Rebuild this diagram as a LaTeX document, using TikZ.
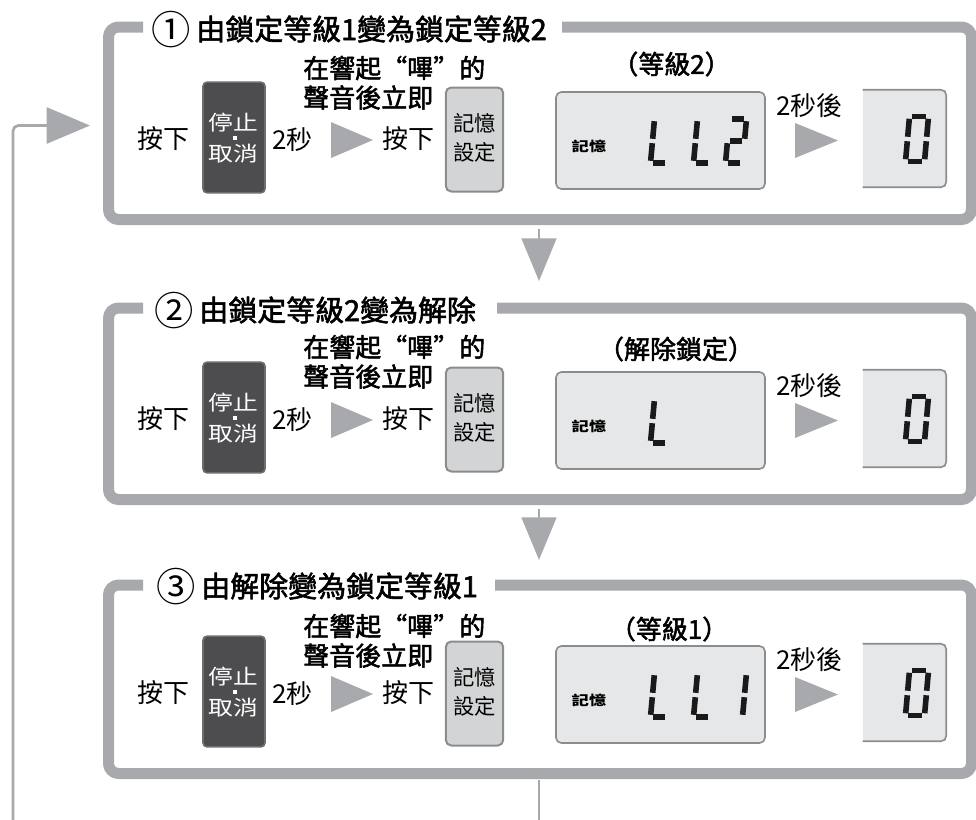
\documentclass[tikz,border=0pt]{standalone}
\usepackage{fontspec}
\usepackage{color}
\usepackage{pgf, tikz}
\usetikzlibrary{arrows.meta}
\setmainfont{Noto Sans CJK TC}
\newfontfamily\medfont{Noto Sans CJK TC}[FakeBold=2]
\newfontfamily\widefont{Noto Sans CJK TC}[FakeStretch=1.2]
\definecolor{framegray}{HTML}{A7A9AC}
\definecolor{keydark}{HTML}{4D4D4F}
\definecolor{keyedge}{HTML}{6D6E71}
\definecolor{keylight}{HTML}{D3D4D5}
\definecolor{lightedge}{HTML}{8A8C8E}
\definecolor{lcdfill}{HTML}{E6E7E8}
\definecolor{segblack}{HTML}{1A1A1A}
% segments of one LCD digit: u/v from bottom left, w = width, h = height
\newcommand{\lcdchar}[5]{%
  \foreach \ua/\va/\ub/\vb in #5
    \draw[seg] ({#1+\ua*#3+\va*4},{#2-\va*#4}) -- ({#1+\ub*#3+\vb*4},{#2-\vb*#4});
}
\def\segL{0/0.95/0/0.55, 0/0.45/0/0.05, 0.15/0/0.85/0}
\def\segtwo{0.15/1/0.85/1, 1/0.95/1/0.55, 0.15/0.5/0.85/0.5, 0/0.45/0/0.05, 0.15/0/0.85/0}
\def\segone{1/0.95/1/0.55, 1/0.45/1/0.05}
\def\segzero{0.15/1/0.85/1, 1/0.95/1/0.55, 1/0.45/1/0.05, 0.15/0/0.85/0, 0/0.45/0/0.05, 0/0.95/0/0.55}
% big circled number in a title
\newcommand{\circnum}[1]{\smash{\raisebox{-0.15em}{\scalebox{1.36}{\rmfamily #1}}}\hspace{0.2em}}

\begin{document}
\begin{tikzpicture}
		[x=0.75pt, y=-0.75pt, line join=round,
		frame/.style={draw=framegray, line width=8.25pt, rounded corners=7.5pt},
		link/.style={draw=framegray, line width=2pt},
		keytext/.style={font=\fontsize{19.5}{20}\selectfont, inner sep=0pt},
		boldtext/.style={font=\medfont\fontsize{19.5}{20}\selectfont, inner sep=0pt},
		titletext/.style={font=\medfont\fontsize{21.7}{23}\selectfont, inner sep=0pt, anchor=west},
		stopkey/.style={draw=keyedge, fill=keydark, line width=1.2pt, rounded corners=3pt, minimum width=46.5pt, minimum height=83pt, inner sep=0pt},
		stoptext/.style={text=white, font=\widefont\fontsize{15.5}{15.5}\selectfont, inner sep=0pt},
		keydot/.style={fill=white, inner sep=0pt, minimum size=3pt},
		memkey/.style={draw=lightedge, fill=keylight, line width=1.5pt, rounded corners=4pt, minimum width=43pt, minimum height=78pt, inner sep=0pt},
		memtext/.style={font=\fontsize{16}{17}\selectfont, inner sep=0pt},
		lcd/.style={draw=lightedge, fill=lcdfill, line width=1.2pt, rounded corners=4pt, minimum width=156.75pt, minimum height=72.75pt, inner sep=0pt},
		lcdsmall/.style={fill=lcdfill, minimum width=62.25pt, minimum height=72.75pt, inner sep=0pt},
		lcdedge/.style={draw=lightedge, line width=1.2pt, rounded corners=4pt},
		lcdlabel/.style={font=\fontsize{10}{10}\selectfont\bfseries, inner sep=0pt},
		seg/.style={draw=segblack, line width=4.2pt, line cap=butt}]
		\useasboundingbox (0,0) rectangle (976,819);
		
		%  \foreach \i in {1, 2, 3}
		\foreach \i/\off/\ytop/\gap/\ty in {1/0/27/562/0, 2/280/308/497/-1, 3/554/585/495/4} {
		\draw[frame] (143,\ytop) -- (108.5,\ytop) -- (108.5,{219.5+\off}) -- (971.5,{219.5+\off}) -- (971.5,\ytop) -- (\gap,\ytop);
		
		\node[keytext] (pa\i) at (163,{139+\off}) {按下};
		\node[stopkey] (stop\i) at (234,{137.5+\off}) {};
		\node[stoptext] (stopa\i) at (233.5,{122.5+\off}) {停止};
		\node[stoptext] (stopb\i) at (233.5,{154+\off}) {取消};
		\node[keydot] (dot\i) at (234.7,{137.5+\off}) {};
		\node[keytext] (sec\i) at (292.5,{140+\off}) {2秒};
		\fill[framegray] (331,{122+\off}) -- (373,{140+\off}) -- (331,{158+\off}) -- cycle;
		\node[keytext] (pb\i) at (408,{139+\off}) {按下};
		\node[boldtext, anchor=west] (beep\i) at (303,{68+\ty+\off}) {在響起“嗶”的};
		\node[boldtext, anchor=west] (snd\i) at (303,{97.5+\ty+\off}) {聲音後立即};
		\node[memkey] (mem\i) at (474.5,{139.5+\off}) {};
		\node[memtext] (mema\i) at (474.5,{123+\off}) {記憶};
		\node[memtext] (memb\i) at (474.5,{152+\off}) {設定};
		
		\node[lcd] (lcd\i) at (660.5,{140.5+\off}) {};
		\node[lcdlabel] (lmem\i) at (589,{146+\off}) {\scalebox{1.3}[1]{記憶}};
		\node[keytext] (after\i) at (809.5,{106+\off}) {2秒後};
		\fill[framegray] (795,{123+\off}) -- (838,{140.5+\off}) -- (795,{158+\off}) -- cycle;
		\node[lcdsmall] (zero\i) at (904.5,{138.5+\off}) {};
		\draw[lcdedge] (zero\i.north west) -- (zero\i.north east) -- (zero\i.south east) -- (zero\i.south west);
		\lcdchar{905.5}{161.5+\off}{19}{45}{\segzero}
		}
		
		\node[titletext] (ttl1) at (151,29) {\circnum{①}由鎖定等級1變為鎖定等級2};
		\node[titletext] (ttl2) at (154,310) {\circnum{②}由鎖定等級2變為解除};
		\node[titletext] (ttl3) at (156,586) {\circnum{③}由解除變為鎖定等級1};
		
		\node[boldtext] (lbl1) at (671.5,64) {（等級2）};
		\node[boldtext] (lbl2) at (676,349) {（解除鎖定）};
		\node[boldtext] (lbl3) at (669,629) {（等級1）};
		
		% LL2, L, LL1
		\lcdchar{650.5}{163}{17}{44}{\segL}
		\lcdchar{693.5}{163}{17}{44}{\segL}
		\lcdchar{725.5}{163}{17}{44}{\segtwo}
		\lcdchar{650.5}{443}{17}{44}{\segL}
		\lcdchar{650.5}{717}{17}{44}{\segL}
		\lcdchar{693.5}{717}{17}{44}{\segL}
		\lcdchar{725.5}{717}{17}{44}{\segone}
		
		\coordinate (d1a) at (539,229);
		\coordinate (d1b) at (539,281);
		\coordinate (d2a) at (539,509);
		\coordinate (d2b) at (539,560);
		\draw[link, -{Triangle[length=32pt, width=26pt]}] (d1a) -- (d1b);
		\draw[link, -{Triangle[length=32pt, width=26pt]}] (d2a) -- (d2b);
		
		\coordinate (r1) at (539,780);
		\coordinate (r2) at (539,830);
		\coordinate (r3) at (13,830);
		\coordinate (r4) at (90,125.5);
		\draw[link] (r1) -- (r2);
		\draw[link, rounded corners=4pt, -{Triangle[length=32.5pt, width=27pt]}] (r3) |- (r4);
		\end{tikzpicture}
\end{document}
